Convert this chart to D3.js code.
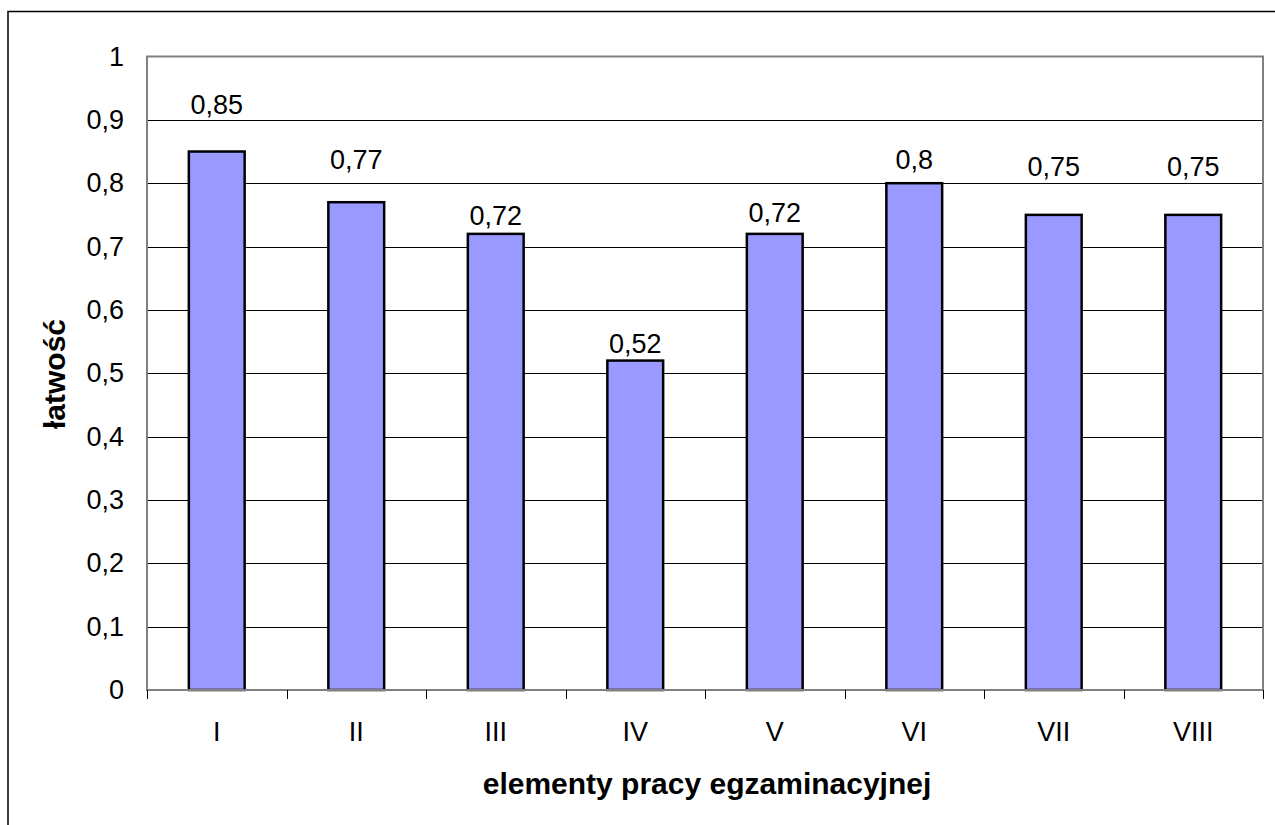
<!DOCTYPE html>
<html>
<head>
<meta charset="utf-8">
<script src="https://cdn.jsdelivr.net/npm/d3@7"></script>
<style>
  body { margin: 0; background: #fff; }
  text { font-family: "Liberation Sans", Arial, sans-serif; fill: #000; }
</style>
</head>
<body>
<svg class="main-chart" width="1275" height="825"></svg>
<script>
// chart values
var categories = ["I", "II", "III", "IV", "V", "VI", "VII", "VIII"];
var values = [0.85, 0.77, 0.72, 0.52, 0.72, 0.8, 0.75, 0.75];
// where the value labels sit (baseline, in value units; moved by hand in the original)
var labelLevels = [0.909, 0.822, 0.734, 0.532, 0.739, 0.822, 0.811, 0.811];
var yTicks = [0, 0.1, 0.2, 0.3, 0.4, 0.5, 0.6, 0.7, 0.8, 0.9, 1];

var fmt = function(v) { return String(v).replace(".", ","); };

var svg = d3.select("svg.main-chart");
var plotLeft = 147, plotRight = 1263, plotTop = 56.5, plotBottom = 690;

var xScale = d3.scaleBand().domain(categories).range([plotLeft, plotRight])
  .paddingInner(0.6).paddingOuter(0.3);
var yScale = d3.scaleLinear().domain([0, 1]).range([plotBottom, plotTop]);

// outer frame (cut off at right and bottom)
svg.append("rect")
  .attr("x", 8).attr("y", 11.5).attr("width", 1400).attr("height", 900)
  .attr("fill", "none").attr("stroke", "#000").attr("stroke-width", 1.5);

// gridlines
svg.append("g")
  .selectAll("line")
  .data(yTicks.filter(function(t) { return t > 0 && t < 1; }))
  .enter()
  .append("line")
  .attr("x1", plotLeft).attr("x2", plotRight)
  .attr("y1", function(d) { return Math.round(yScale(d)) + 0.5; })
  .attr("y2", function(d) { return Math.round(yScale(d)) + 0.5; })
  .attr("stroke", "#000").attr("stroke-width", 1);

// plot border (top, left, right)
svg.append("path")
  .attr("d", "M" + plotLeft + "," + plotBottom + "V" + plotTop + "H" + plotRight + "V" + plotBottom)
  .attr("fill", "none").attr("stroke", "#808080").attr("stroke-width", 2);

// y axis labels
var yAxis = d3.axisLeft(yScale).tickValues(yTicks).tickSize(0).tickPadding(23)
  .tickFormat(fmt);
svg.append("g").attr("id", "yAxisG")
  .attr("transform", "translate(" + plotLeft + ",0)")
  .call(yAxis)
  .call(function(g) { g.select(".domain").remove(); })
  .selectAll("text")
  .style("font-family", "Liberation Sans, Arial, sans-serif")
  .style("font-size", "27px")
  .attr("fill", "#000");

// bars
svg.append("g")
  .selectAll("rect")
  .data(values)
  .enter()
  .append("rect")
  .attr("x", function(d, i) { return xScale(categories[i]); })
  .attr("y", function(d) { return yScale(d); })
  .attr("width", xScale.bandwidth())
  .attr("height", function(d) { return yScale(0) - yScale(d); })
  .attr("fill", "#9999FF")
  .attr("stroke", "#000")
  .attr("stroke-width", 2.5);

// x axis: ticks at band boundaries
var boundaries = d3.range(categories.length + 1).map(function(i) {
  return plotLeft + i * xScale.step();
});
var xAxisG = svg.append("g").attr("id", "xAxisG");
xAxisG.append("line")
  .attr("x1", plotLeft - 1).attr("x2", plotRight + 1)
  .attr("y1", plotBottom).attr("y2", plotBottom)
  .attr("stroke", "#808080").attr("stroke-width", 2);
xAxisG.selectAll("line.tick")
  .data(boundaries)
  .enter()
  .append("line")
  .attr("class", "tick")
  .attr("x1", function(d) { return Math.round(d) + 0.5; })
  .attr("x2", function(d) { return Math.round(d) + 0.5; })
  .attr("y1", plotBottom).attr("y2", plotBottom + 9)
  .attr("stroke", "#000").attr("stroke-width", 1);
xAxisG.selectAll("text")
  .data(categories)
  .enter()
  .append("text")
  .attr("x", function(d) { return xScale(d) + xScale.bandwidth() / 2; })
  .attr("y", 741)
  .attr("text-anchor", "middle")
  .style("font-size", "27px")
  .text(function(d) { return d; });

// value labels
svg.append("g")
  .selectAll("text")
  .data(values)
  .enter()
  .append("text")
  .attr("x", function(d, i) { return xScale(categories[i]) + xScale.bandwidth() / 2; })
  .attr("y", function(d, i) { return yScale(labelLevels[i]); })
  .attr("text-anchor", "middle")
  .style("font-size", "27px")
  .text(fmt);

// axis titles
svg.append("text")
  .text("elementy pracy egzaminacyjnej")
  .attr("x", 707).attr("y", 794)
  .attr("text-anchor", "middle")
  .style("font-size", "30px")
  .style("font-weight", "bold");

svg.append("text")
  .text("łatwość")
  .attr("transform", "translate(65,374)rotate(-90)")
  .attr("text-anchor", "middle")
  .style("font-size", "30px")
  .style("font-weight", "bold");
</script>
</body>
</html>
